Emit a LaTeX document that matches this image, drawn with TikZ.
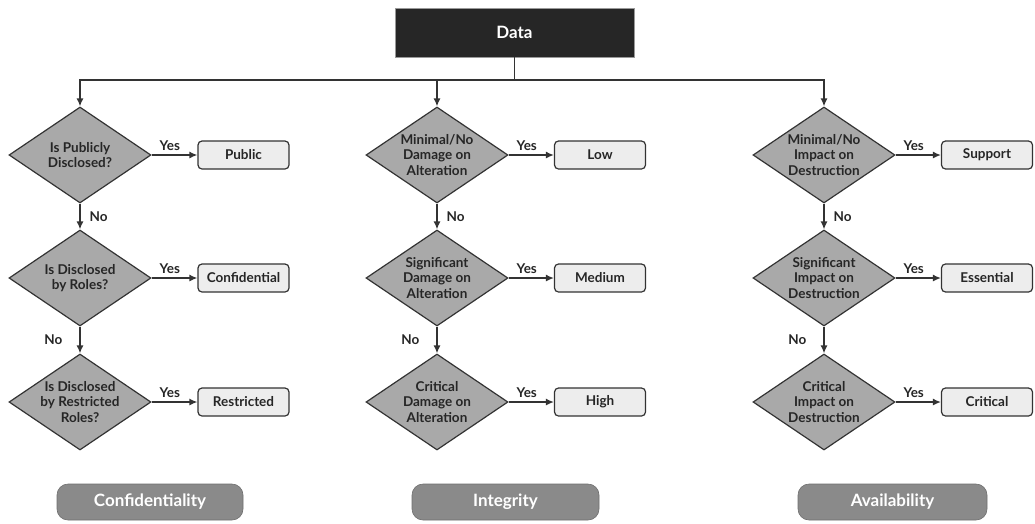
\documentclass[tikz,border=0pt]{standalone}
\usepackage{fontspec}
\setmainfont{Lato}
\usetikzlibrary{shapes.geometric,arrows.meta}

\definecolor{linegray}{HTML}{333333}
\definecolor{diamgray}{HTML}{A9A9A9}
\definecolor{boxgray}{HTML}{EDEDED}
\definecolor{pillgray}{HTML}{8A8A8A}
\definecolor{datablack}{HTML}{262626}

\tikzset{
  conn/.style={draw=linegray, line width=1.4pt},
  arr/.style={conn, -{Latex[length=8pt,width=7pt]}},
  dec/.style={diamond, draw=linegray, fill=diamgray, line width=1.2pt,
    minimum width=142pt, minimum height=96pt, inner sep=0pt},
  dectext/.style={align=center, font=\fontsize{13.5}{15.5}\selectfont\bfseries,
    text=black!85, inner sep=0pt},
  outbox/.style={rectangle, rounded corners=4pt, draw=linegray, fill=boxgray,
    line width=1.2pt, minimum width=91pt, minimum height=28pt, inner sep=0pt,
    font=\fontsize{13.5}{15}\selectfont\bfseries, text=black!85},
  yn/.style={font=\fontsize{13.5}{15}\selectfont\bfseries, text=black!85, inner sep=1pt},
  pill/.style={rectangle, rounded corners=11pt, fill=pillgray, draw=pillgray!80!black,
    line width=0.6pt, minimum height=36pt, inner sep=0pt,
    font=\fontsize{17}{19}\selectfont\bfseries, text=white},
  databox/.style={rectangle, fill=datablack, draw=black!40, line width=0.8pt,
    minimum width=239pt, minimum height=49pt, inner sep=0pt,
    font=\fontsize{17}{19}\selectfont\bfseries, text=white}
}

\begin{document}
\begin{tikzpicture}[x=1pt, y=-1pt]
  \useasboundingbox (0,0) rectangle (1035,523);

  % root
  \node[databox] (data) at (514.5,32.5) {Data};
  \draw[conn] (data.south) -- (514.5,80) coordinate (hub);

  % Confidentiality column
  \node[dec] (c1) at (80,155) {};
  \node[dectext] (c1t) at (c1) {Is Publicly\\Disclosed?};
  \node[dec] (c2) at (80,278) {};
  \node[dectext] (c2t) at (c2) {Is Disclosed\\by Roles?};
  \node[dec] (c3) at (80,402) {};
  \node[dectext] (c3t) at (c3) {Is Disclosed\\by Restricted\\Roles?};
  \node[outbox] (cb1) at (243.5,155) {Public};
  \node[outbox] (cb2) at (243.5,278) {Confidential};
  \node[outbox] (cb3) at (243.5,402) {Restricted};
  \node[pill, minimum width=186pt] (cp) at (150,502) {Confidentiality};

  % Integrity column
  \node[dec] (i1) at (437,155) {};
  \node[dectext] (i1t) at (i1) {Minimal/No\\Damage on\\Alteration};
  \node[dec] (i2) at (437,278) {};
  \node[dectext] (i2t) at (i2) {Significant\\Damage on\\Alteration};
  \node[dec] (i3) at (437,402) {};
  \node[dectext] (i3t) at (i3) {Critical\\Damage on\\Alteration};
  \node[outbox] (ib1) at (600,155) {Low};
  \node[outbox] (ib2) at (600,278) {Medium};
  \node[outbox] (ib3) at (600,402) {High};
  \node[pill, minimum width=187pt] (ip) at (505.5,502) {Integrity};

  % Availability column
  \node[dec] (a1) at (824,155) {};
  \node[dectext] (a1t) at (a1) {Minimal/No\\Impact on\\Destruction};
  \node[dec] (a2) at (824,278) {};
  \node[dectext] (a2t) at (a2) {Significant\\Impact on\\Destruction};
  \node[dec] (a3) at (824,402) {};
  \node[dectext] (a3t) at (a3) {Critical\\Impact on\\Destruction};
  \node[outbox] (ab1) at (987,155) {Support};
  \node[outbox] (ab2) at (987,278) {Essential};
  \node[outbox] (ab3) at (987,402) {Critical};
  \node[pill, minimum width=189pt] (ap) at (892.5,502) {Availability};

  % branches from the root
  \draw[arr] (hub) -| (c1.north);
  \draw[arr] (hub) -| (i1.north);
  \draw[arr] (hub) -| (a1.north);

  % Yes / No decisions
  \foreach \col in {c,i,a}{
    \draw[arr] (\col1.east) -- node[yn, above=3pt, pos=0.4] (\col y1) {Yes} (\col b1.west);
    \draw[arr] (\col2.east) -- node[yn, above=3pt, pos=0.4] (\col y2) {Yes} (\col b2.west);
    \draw[arr] (\col3.east) -- node[yn, above=3pt, pos=0.4] (\col y3) {Yes} (\col b3.west);
    \draw[arr] (\col1.south) -- node[yn, right=8pt] (\col n1) {No} (\col2.north);
    \draw[arr] (\col2.south) -- node[yn, left=16pt] (\col n2) {No} (\col3.north);
  }
\end{tikzpicture}
\end{document}
